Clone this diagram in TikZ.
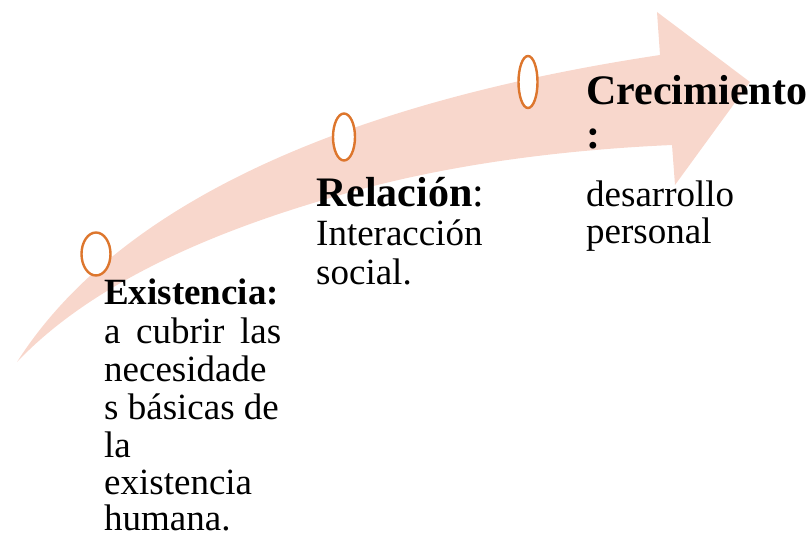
\documentclass[tikz,border=0pt]{standalone}
\usepackage{fontspec}
\setmainfont{Liberation Serif}
\definecolor{arrowpink}{RGB}{248,215,204}
\definecolor{ringorange}{RGB}{221,118,45}
\tikzset{
  ring/.style={draw=ringorange, fill=white, line width=2.4pt},
  bodytext/.style={anchor=base west, inner sep=0pt, font=\fontsize{37}{39}\selectfont},
  headsmall/.style={anchor=base west, inner sep=0pt, font=\fontsize{37}{39}\selectfont\bfseries},
  headbig/.style={anchor=base west, inner sep=0pt, font=\fontsize{42}{45}\selectfont\bfseries}
}
\begin{document}
\begin{tikzpicture}[x=1pt,y=-1pt]
\useasboundingbox (0,0) rectangle (811,537);
% curved arrow
\fill[arrowpink] (17,362) .. controls (115,208) and (335,104) .. (660,55)
  -- (657,12) -- (750,82) -- (675,185) -- (672,145)
  .. controls (560,150) and (440,165) .. (330,198)
  .. controls (220,230) and (95,280) .. (17,362) -- cycle;
% rings
\draw[ring] (96,254) ellipse [x radius=14.5pt, y radius=21.5pt];
\draw[ring] (344,137) ellipse [x radius=11pt, y radius=23.5pt];
\draw[ring] (528,82) ellipse [x radius=9.5pt, y radius=26pt];
% Existencia block
\node[headsmall] (e1) at (104,305) {Existencia:};
\node[bodytext] (e2) at (104,343) {\makebox[177pt][s]{a cubrir las}};
\node[bodytext] (e3) at (104,381) {necesidade};
\node[bodytext] (e4) at (104,419) {s básicas de};
\node[bodytext] (e5) at (104,457) {la};
\node[bodytext] (e6) at (104,494) {existencia};
\node[bodytext] (e7) at (104,530) {humana.};
% Relacion block
\node[headbig] (r1) at (316,207) {Relación\mdseries:};
\node[bodytext] (r2) at (316,246) {Interacción};
\node[bodytext] (r3) at (316,284) {social.};
% Crecimiento block
\node[headbig] (c1) at (586,105) {Crecimiento};
\node[headbig] (c2) at (586,149) {:};
\node[bodytext] (c3) at (586,207) {desarrollo};
\node[bodytext] (c4) at (586,244) {personal};
\end{tikzpicture}
\end{document}
